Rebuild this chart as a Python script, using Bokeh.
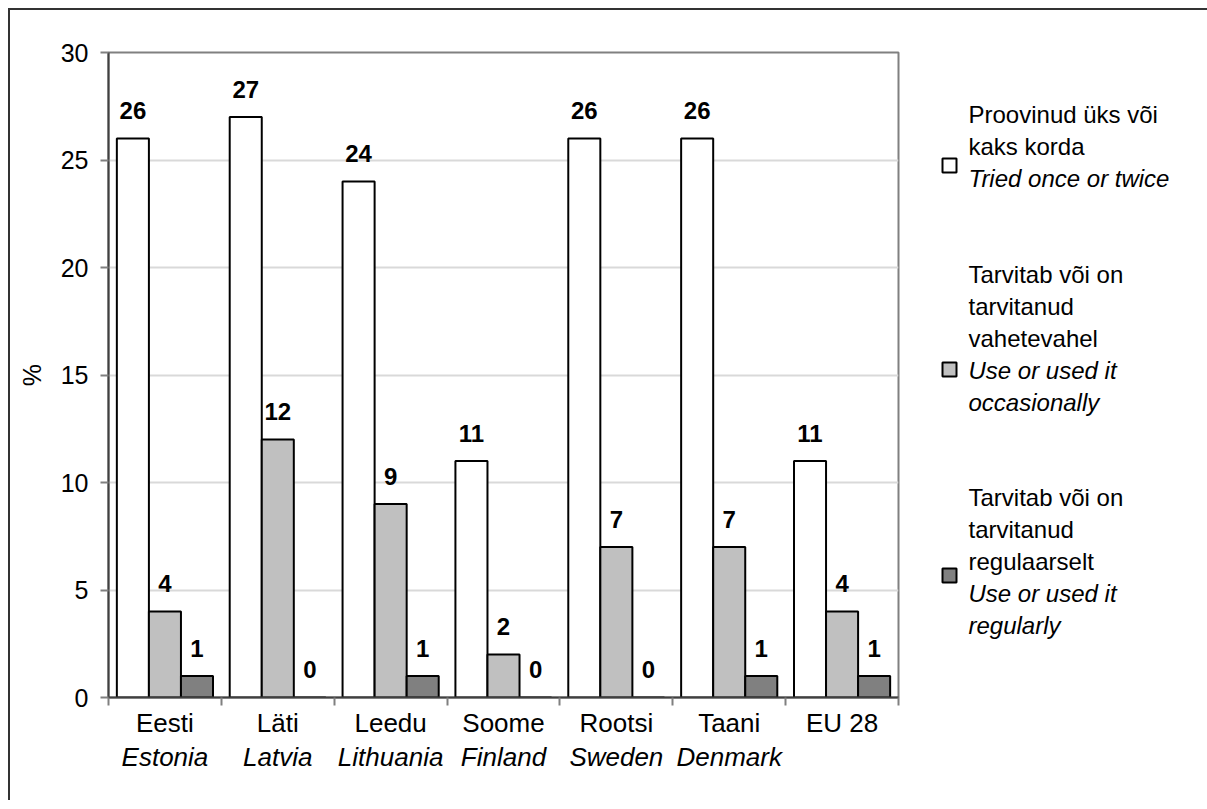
from bokeh.plotting import figure
from bokeh.models import Range1d, FixedTicker, LinearAxis
from bokeh.layouts import row
from bokeh.embed import file_html
from bokeh.resources import INLINE
from bokeh.core.properties import value

# ---------------- data ----------------
countries_et = ["Eesti", "Läti", "Leedu", "Soome", "Rootsi", "Taani", "EU 28"]
countries_en = ["Estonia", "Latvia", "Lithuania", "Finland", "Sweden", "Denmark", ""]
tried = [26, 27, 24, 11, 26, 26, 11]
occasional = [4, 12, 9, 2, 7, 7, 4]
regular = [1, 0, 1, 0, 0, 1, 1]
y_ticks = [0, 5, 10, 15, 20, 25, 30]
legend_et = [["Proovinud üks või", "kaks korda"],
             ["Tarvitab või on", "tarvitanud", "vahetevahel"],
             ["Tarvitab või on", "tarvitanud", "regulaarselt"]]
legend_en = [["Tried once or twice"],
             ["Use or used it", "occasionally"],
             ["Use or used it", "regularly"]]

# ---------------- styles ----------------
FONT = "Liberation Sans"
colors = ["#FFFFFF", "#C0C0C0", "#808080"]
series = [tried, occasional, regular]
bw = 0.284
offsets = [-bw, 0.0, bw]
H = 790
MB_TOP, MB_BOTTOM = 42, 103

p = figure(width=900, height=H, x_range=Range1d(0, len(countries_et)), y_range=Range1d(0, 30),
           output_backend="svg", toolbar_location=None,
           min_border_left=98, min_border_right=12, min_border_top=MB_TOP, min_border_bottom=MB_BOTTOM)
p.background_fill_color = "white"
p.border_fill_color = "white"
p.outline_line_color = "#808080"
p.outline_line_width = 2

# y axis
ya = p.yaxis[0]
ya.ticker = FixedTicker(ticks=y_ticks, minor_ticks=[])
ya.major_tick_out = 8
ya.major_tick_in = 0
ya.major_tick_line_color = "#808080"
ya.major_tick_line_width = 2
ya.axis_line_color = "#404040"
ya.axis_line_width = 2
ya.major_label_text_font = FONT
ya.major_label_text_font_size = "25px"
ya.major_label_text_color = "black"
ya.major_label_standoff = 12
ya.axis_label = "%"
ya.axis_label_text_font = FONT
ya.axis_label_text_font_size = "25px"
ya.axis_label_text_font_style = "normal"
ya.axis_label_text_color = "black"
ya.axis_label_standoff = 12

# x axis (boundary ticks as minor ticks, labels at centres)
centers = [i + 0.5 for i in range(len(countries_et))]
bounds = list(range(len(countries_et) + 1))
xa = p.xaxis[0]
xa.ticker = FixedTicker(ticks=centers, minor_ticks=bounds)
xa.major_label_overrides = {c: n for c, n in zip(centers, countries_et)}
xa.major_tick_out = 0
xa.major_tick_in = 0
xa.minor_tick_out = 8
xa.minor_tick_in = 0
xa.minor_tick_line_color = "#808080"
xa.minor_tick_line_width = 2
xa.axis_line_color = "#404040"
xa.axis_line_width = 2
xa.major_label_text_font = FONT
xa.major_label_text_font_size = "26px"
xa.major_label_text_color = "black"
xa.major_label_standoff = 2

xa2 = LinearAxis(ticker=FixedTicker(ticks=centers, minor_ticks=[]))
xa2.major_label_overrides = {c: n for c, n in zip(centers, countries_en)}
xa2.major_tick_out = 0
xa2.major_tick_in = 0
xa2.minor_tick_out = 0
xa2.minor_tick_in = 0
xa2.axis_line_color = None
xa2.major_label_text_font = FONT
xa2.major_label_text_font_size = "26px"
xa2.major_label_text_font_style = "italic"
xa2.major_label_text_color = "black"
xa2.major_label_standoff = 1
p.add_layout(xa2, "below")

p.xgrid.visible = False
p.ygrid.ticker = FixedTicker(ticks=y_ticks[1:-1])
p.ygrid.grid_line_color = "#D9D9D9"
p.ygrid.grid_line_width = 2

for vals, col, off in zip(series, colors, offsets):
    xs = [c + off for c in centers]
    p.vbar(x=xs, top=vals, width=bw, bottom=0, fill_color=col, line_color="black", line_width=2)
    p.text(x=xs, y=vals, text=[str(v) for v in vals], text_align="center", text_baseline="alphabetic",
           y_offset=-28, text_font=value(FONT), text_font_style="bold", text_font_size="24px",
           text_color="black")

# ---------------- legend panel ----------------
LW = 297
frame_h = H - MB_TOP - MB_BOTTOM
lg = figure(width=LW, height=H, x_range=Range1d(0, LW), y_range=Range1d(MB_TOP + frame_h, MB_TOP),
            output_backend="svg", toolbar_location=None,
            min_border_left=0, min_border_right=0, min_border_top=MB_TOP, min_border_bottom=MB_BOTTOM,
            x_axis_location=None, y_axis_location=None)
lg.outline_line_color = None
lg.grid.visible = False
lg.background_fill_color = "white"
lg.border_fill_color = "white"

block_start = [104, 264, 487]   # first line of each block (px from panel top)
square_y = [155, 359, 565]
pitch = 32
text_x = 58
for k in range(3):
    lines_n = legend_et[k]
    lines_i = legend_en[k]
    yn = [block_start[k] + pitch * j for j in range(len(lines_n))]
    yi = [block_start[k] + pitch * (len(lines_n) + j) for j in range(len(lines_i))]
    lg.text(x=[text_x] * len(yn), y=yn, text=lines_n, text_baseline="alphabetic", text_align="left",
            text_font=value(FONT), text_font_size="24px", text_color="black")
    lg.text(x=[text_x] * len(yi), y=yi, text=lines_i, text_baseline="alphabetic", text_align="left",
            text_font=value(FONT), text_font_size="24px", text_font_style="italic", text_color="black")
    lg.rect(x=[39], y=[square_y[k]], width=14, height=14, fill_color=colors[k],
            line_color="black", line_width=2)

layout = row(p, lg, margin=(8, 0, 0, 8),
             styles={"border-top": "2px solid #333333", "border-left": "2px solid #333333"})
open("out.html", "w").write(file_html(layout, INLINE))
